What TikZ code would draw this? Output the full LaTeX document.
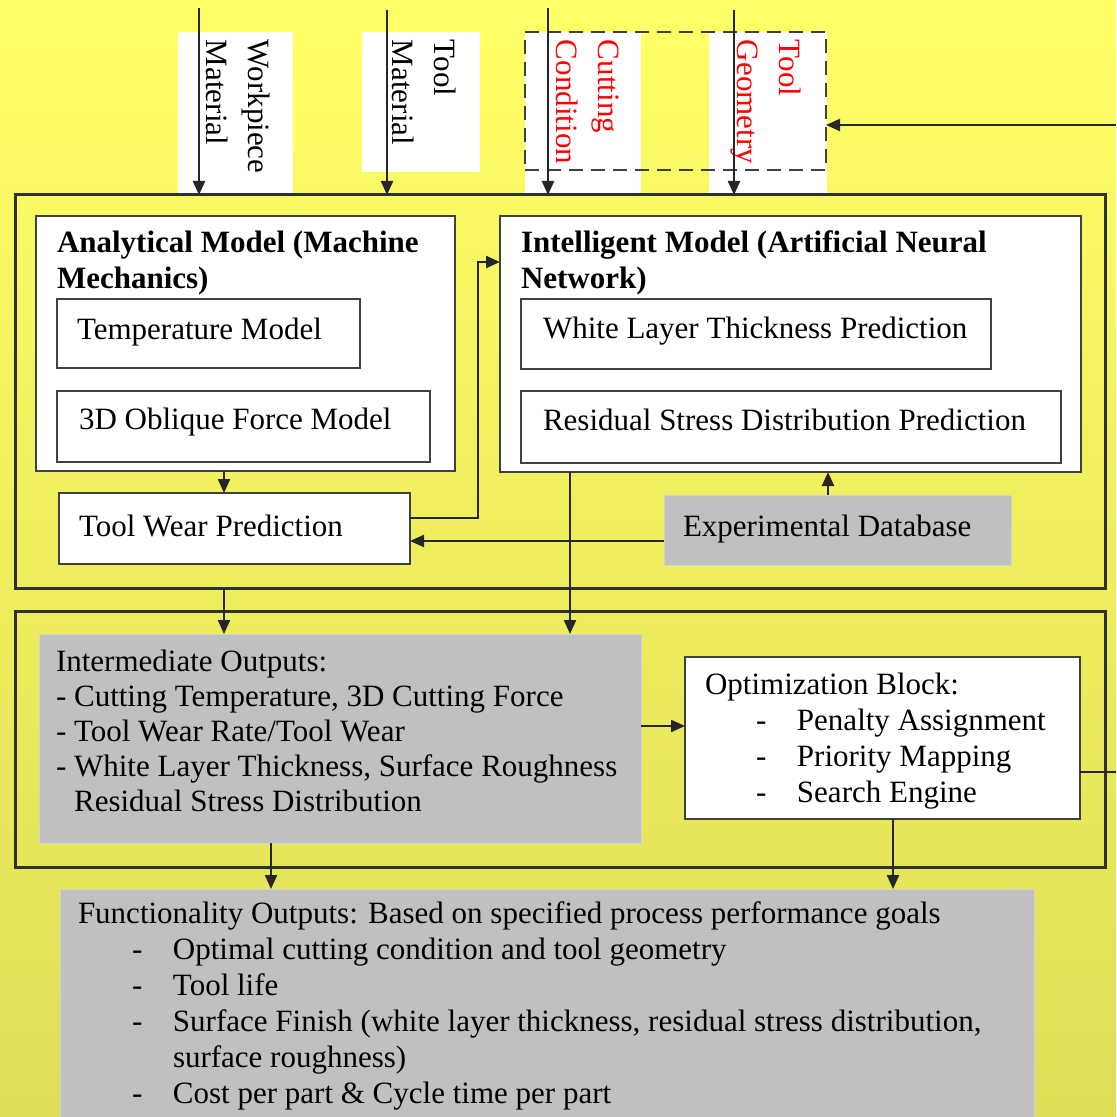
\documentclass[tikz,border=0pt]{standalone}
\usepackage{fontspec}
\setmainfont{Liberation Serif}
\usetikzlibrary{arrows.meta,calc}
\definecolor{bgtop}{RGB}{255,255,102}
\definecolor{bgbot}{RGB}{222,222,86}
\definecolor{boxgray}{RGB}{192,192,192}
\definecolor{edgegray}{RGB}{64,64,64}
\definecolor{framegray}{RGB}{48,48,48}
\definecolor{txtred}{RGB}{255,0,0}
\newcommand{\mkbox}[6]{\node[#2,anchor=north west,minimum width={(#5-#3)*0.5pt},minimum height={(#6-#4)*0.5pt}] (#1) at (#3,#4) {};}
\begin{document}
\begin{tikzpicture}[x=0.5pt,y=-0.5pt,
 every node/.style={inner sep=0pt,outer sep=0pt},
 whitebox/.style={draw=edgegray,fill=white,line width=1.2pt},
 graybox/.style={fill=boxgray,draw=boxgray!70!white,line width=0.5pt},
 inbox/.style={fill=white},
 outerframe/.style={draw=framegray,line width=1.5pt},
 dashbox/.style={draw=edgegray,line width=1.2pt,dash pattern=on 7pt off 4pt},
 arr/.style={draw=black!85,line width=1.1pt,-{Triangle[length=7pt,width=6pt]}},
 ln/.style={draw=black!85,line width=1.1pt},
 txt/.style={font=\fontsize{15.5pt}{18pt}\selectfont,anchor=base west,align=left},
 titletxt/.style={font=\fontsize{15.5pt}{18pt}\selectfont\bfseries,anchor=base west,align=left},
 rot/.style={font=\fontsize{15.5pt}{21pt}\selectfont,rotate=-90,anchor=north west,align=left},
]
\useasboundingbox (0,0) rectangle (1116,1117);
\fill[top color=bgtop,bottom color=bgbot] (0,0) rectangle (1116,1117);

% input boxes
\mkbox{wpb}{inbox}{178}{32}{293}{193}
\mkbox{tmb}{inbox}{362}{32}{480}{172}
\mkbox{ccb}{inbox}{525}{32}{641}{193}
\mkbox{tgb}{inbox}{709}{32}{827}{193}
\mkbox{dash}{dashbox}{525}{32}{826}{170}

\node[rot] (wpt) at (270,40) {Workpiece\\Material};
\node[rot] (tmt) at (456,40) {Tool\\Material};
\node[rot,text=txtred] (cct) at (619,40) {Cutting\\Condition};
\node[rot,text=txtred] (tgt) at (801,40) {Tool\\Geometry};

% outer frames
\mkbox{o1}{outerframe}{15}{195}{1105}{588}
\mkbox{o2}{outerframe}{15}{611}{1105}{867}

% upper frame contents
\mkbox{am}{whitebox}{36}{216}{455}{471}
\mkbox{tmod}{whitebox}{57}{299}{360}{368}
\mkbox{ofm}{whitebox}{57}{391}{430}{462}
\mkbox{tw}{whitebox}{59}{493}{410}{564}
\mkbox{im}{whitebox}{500}{216}{1081}{472}
\mkbox{wlt}{whitebox}{521}{299}{991}{369}
\mkbox{rsd}{whitebox}{521}{391}{1061}{463}
\mkbox{edb}{graybox}{664}{495}{1011}{565}

% multi-line nodes: base anchor = baseline of last line
\node[titletxt] (amt) at (57,289) {Analytical Model (Machine\\Mechanics)};
\node[txt] (tmodt) at (77,339) {Temperature Model};
\node[txt] (ofmt) at (79,429) {3D Oblique Force Model};
\node[txt] (twt) at (79,536) {Tool Wear Prediction};
\node[titletxt] (imt) at (521,289) {Intelligent Model (Artificial Neural\\Network)};
\node[txt] (wltt) at (543,338) {White Layer Thickness Prediction};
\node[txt] (rsdt) at (543,430) {Residual Stress Distribution Prediction};
\node[txt] (edbt) at (683,536) {Experimental Database};

% lower frame contents
\mkbox{io}{graybox}{39}{634}{641}{843}
\mkbox{opt}{whitebox}{685}{657}{1080}{819}
\mkbox{fo}{graybox}{60}{889}{1034}{1120}

\node[txt,font=\fontsize{15.5pt}{17.5pt}\selectfont] (iot) at (56,811) {Intermediate Outputs:\\- Cutting Temperature, 3D Cutting Force\\- Tool Wear Rate/Tool Wear\\- White Layer Thickness, Surface Roughness\\\phantom{- }Residual Stress Distribution};
\node[txt] (optt) at (705,802) {Optimization Block:\\\hspace*{25.5pt}\makebox[20.5pt][l]{-}Penalty Assignment\\\hspace*{25.5pt}\makebox[20.5pt][l]{-}Priority Mapping\\\hspace*{25.5pt}\makebox[20.5pt][l]{-}Search Engine};
\node[txt] (fot) at (78,1103) {Functionality Outputs: Based on specified process performance goals\\\hspace*{27pt}\makebox[20.5pt][l]{-}Optimal cutting condition and tool geometry\\\hspace*{27pt}\makebox[20.5pt][l]{-}Tool life\\\hspace*{27pt}\makebox[20.5pt][l]{-}Surface Finish (white layer thickness, residual stress distribution,\\\hspace*{27pt}\makebox[20.5pt][l]{}surface roughness)\\\hspace*{27pt}\makebox[20.5pt][l]{-}Cost per part \& Cycle time per part};

% input arrows
\coordinate (wpin) at (199,8);
\coordinate (tmin) at (387,10);
\coordinate (ccin) at (548,8);
\coordinate (tgin) at (734,10);
\draw[arr] (wpin) -- (wpin |- o1.north);
\draw[arr] (tmin) -- (tmin |- o1.north);
\draw[arr] (ccin) -- (ccin |- o1.north);
\draw[arr] (tgin) -- (tgin |- o1.north);

% feedback loop ends
\coordinate (fbtop) at (1116,125);
\coordinate (fbbot) at (1116,772);
\draw[arr] (fbtop) -- (dash.east |- fbtop);
\draw[ln] (opt.east |- fbbot) -- (fbbot);

% internal connectors
\draw[arr] (224,0 |- am.south) -- (224,0 |- tw.north);
\draw[arr] (tw.east |- 0,518) -- (478,518) -- (478,262) -- (im.west |- 0,262);
\draw[arr] (edb.west |- 0,541) -- (tw.east |- 0,541);
\draw[arr] (828,0 |- edb.north) -- (828,0 |- im.south);
\draw[arr] (570,0 |- im.south) -- (570,0 |- io.north);
\draw[arr] (224,0 |- o1.south) -- (224,0 |- io.north);
\draw[arr] (io.east |- 0,726) -- (opt.west |- 0,726);
\draw[arr] (271,0 |- io.south) -- (271,0 |- fo.north);
\draw[arr] (893,0 |- opt.south) -- (893,0 |- fo.north);
\end{tikzpicture}
\end{document}
